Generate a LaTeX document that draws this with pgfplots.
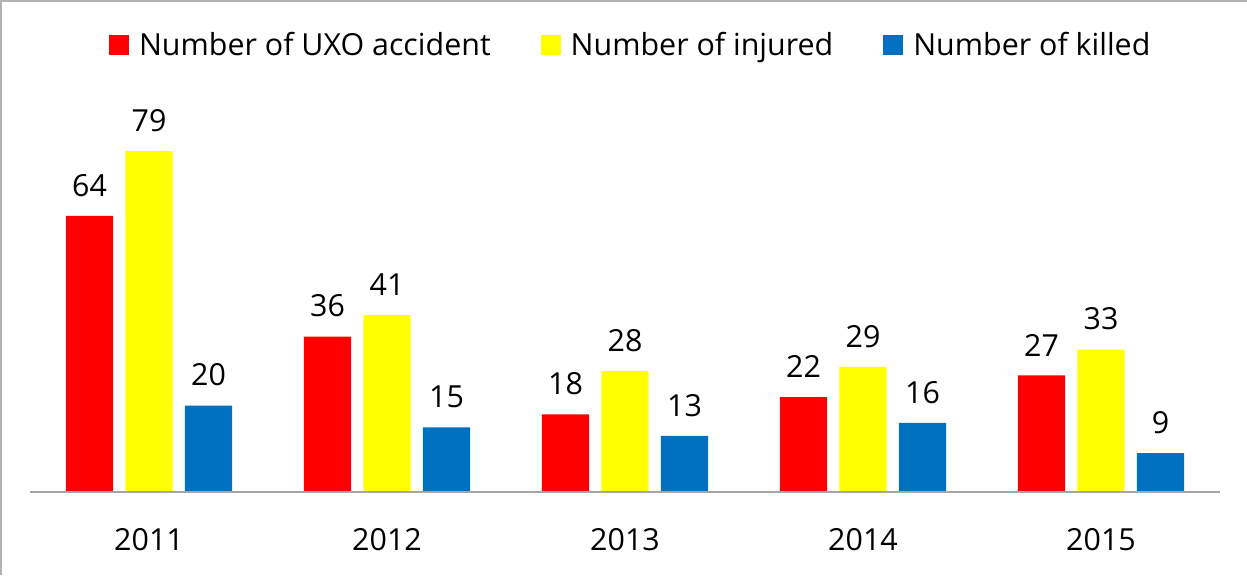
\documentclass[border=0pt]{standalone}
\usepackage{pgfplots}
\pgfplotsset{compat=1.18}
\usepackage{fontspec}
\setmainfont{Open Sans}
\definecolor{cred}{HTML}{FF0000}
\definecolor{cyellow}{HTML}{FFFF00}
\definecolor{cblue}{HTML}{0070C0}
\definecolor{cgrid}{HTML}{A6A6A6}
\definecolor{cborder}{HTML}{B3B3B3}
\begin{document}
\begin{tikzpicture}
\useasboundingbox (0,0) rectangle (623.5pt,287.5pt);
\draw[cborder, line width=1pt] (0.5pt,0) -- (0.5pt,287pt) -- (623.5pt,287pt);
\begin{axis}[
  at={(15pt,41.5pt)}, anchor=south west,
  scale only axis, width=595pt, height=196pt,
  xmin=-0.5, xmax=4.5, ymin=0, ymax=90.83,
  axis line style={draw=none},
  ybar, bar width=0.198, bar shift=0pt,
  xtick={0,1,2,3,4},
  xticklabels={2011,2012,2013,2014,2015},
  ytick=\empty,
  major tick length=0pt,
  xticklabel style={font=\fontsize{15.2}{18}\selectfont, inner sep=0pt, anchor=north, yshift=-18pt},
  /pgf/number format/assume math mode=true,
  nodes near coords,
  every node near coord/.append style={font=\fontsize{15.2}{18}\selectfont, inner sep=0pt, anchor=south, yshift=9.5pt, text=black},
  legend columns=3,
  legend style={draw=none, fill=none, at={(0.504,1.14)}, anchor=center,
    font=\fontsize{15.2}{18}\selectfont,
    nodes={inner sep=0pt},
    /tikz/every odd column/.append style={column sep=5pt},
    /tikz/every even column/.append style={column sep=25pt}},
  legend image code/.code={\fill[#1] (0pt,-5pt) rectangle (10pt,5pt);},
  clip=false,
]
\addplot[draw=none, fill=cred] coordinates {(-0.25,64) (0.75,36) (1.75,18) (2.75,22) (3.75,27)};
\addlegendentry{Number of UXO accident}
\addplot[draw=none, fill=cyellow] coordinates {(0,79) (1,41) (2,28) (3,29) (4,33)};
\addlegendentry{Number of injured}
\addplot[draw=none, fill=cblue] coordinates {(0.25,20) (1.25,15) (2.25,13) (3.25,16) (4.25,9)};
\addlegendentry{Number of killed}
\draw[cgrid, line width=1pt] (axis cs:-0.5,0) -- (axis cs:4.5,0);
\end{axis}
\end{tikzpicture}
\end{document}
